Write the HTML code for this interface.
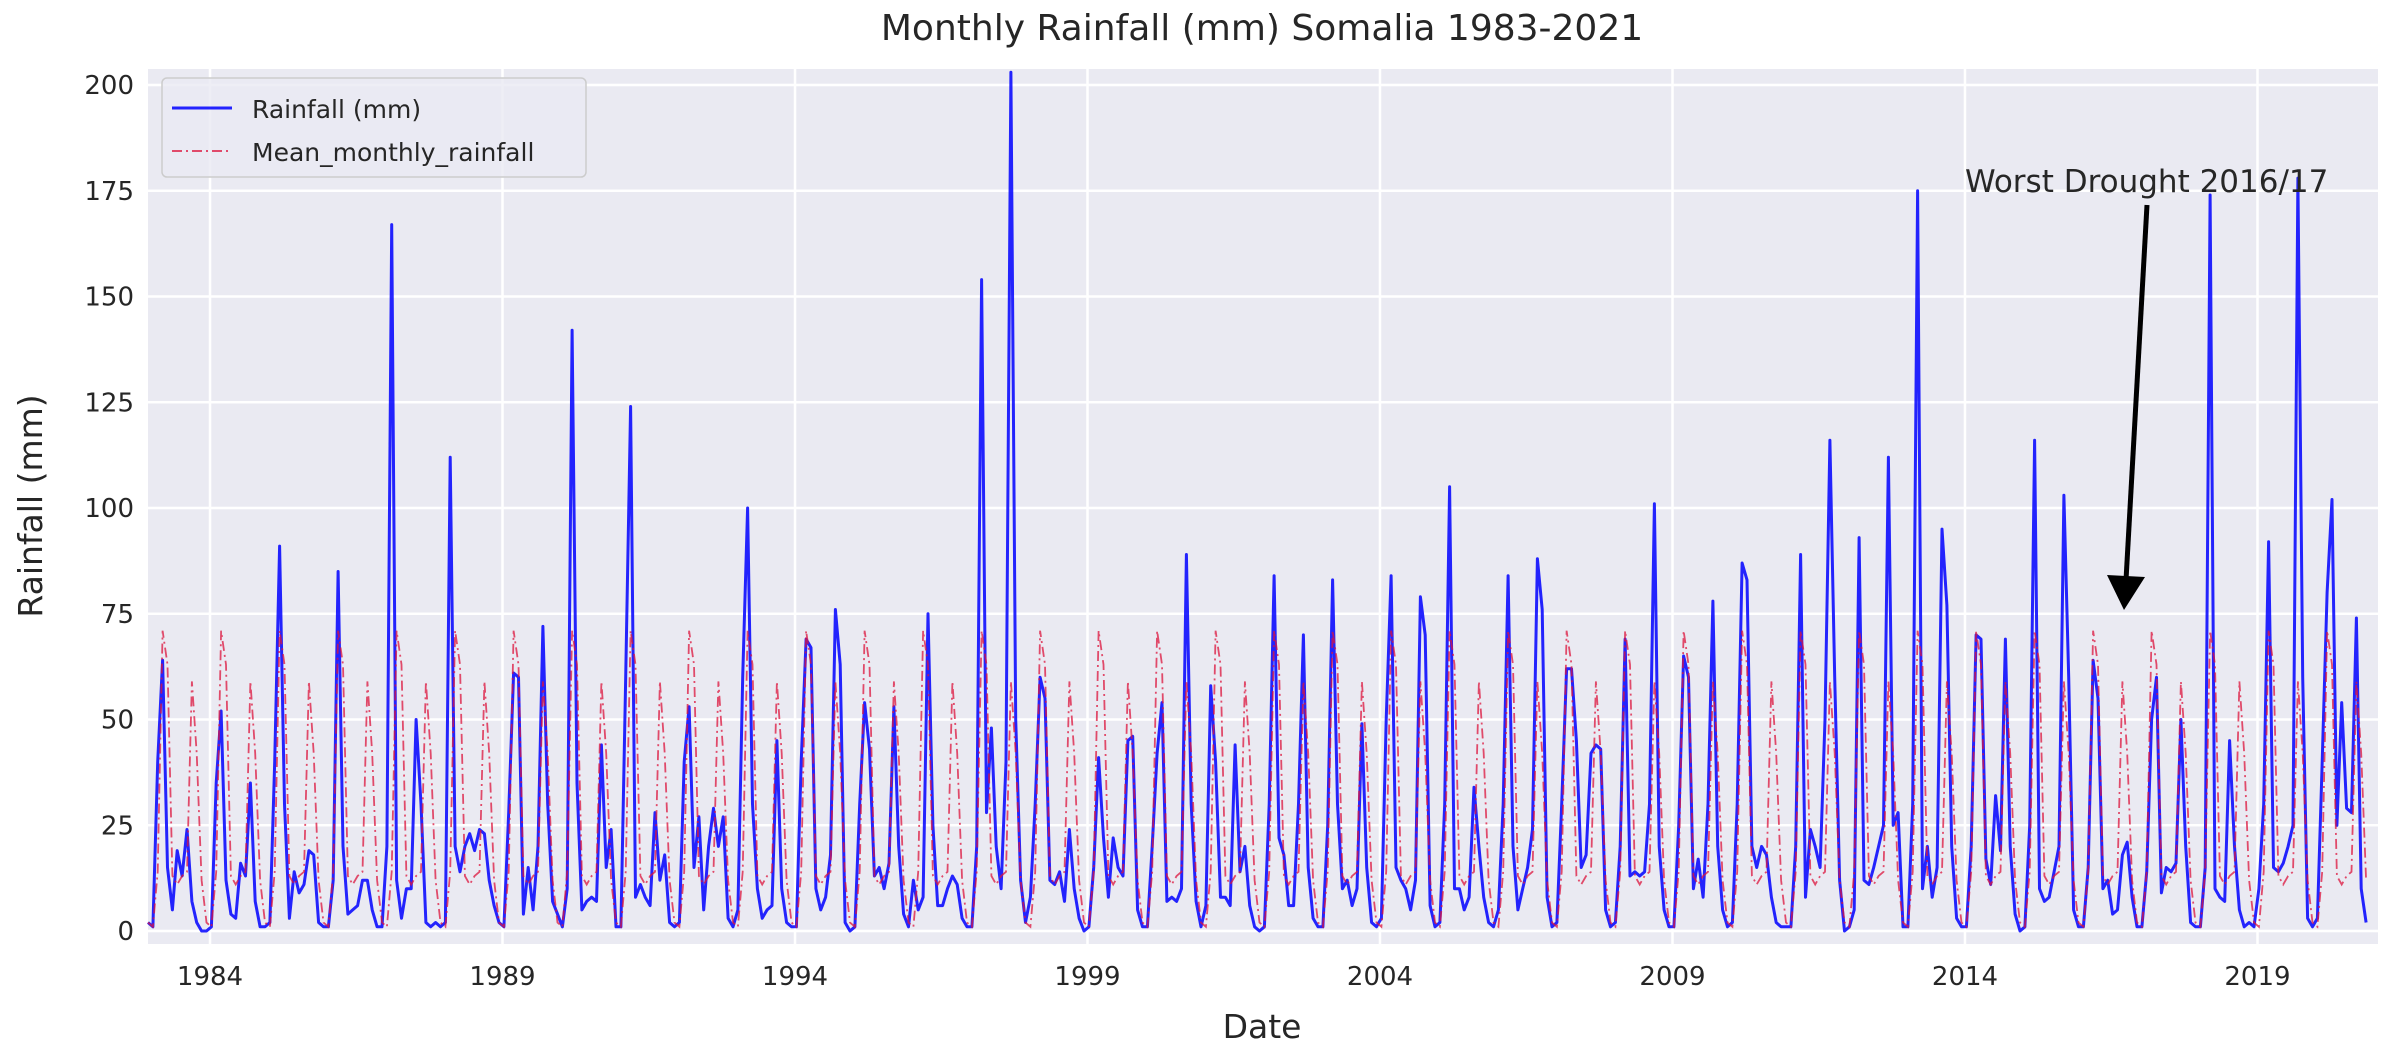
<!DOCTYPE html>
<html><head><meta charset="utf-8">
<style>
body{margin:0;background:#fff;}
svg{display:block;font-family:"DejaVu Sans","Liberation Sans",sans-serif;}
</style></head>
<body>
<svg id="chart" width="2404" height="1046" viewBox="0 0 2404 1046" xmlns="http://www.w3.org/2000/svg">
<rect x="0" y="0" width="2404" height="1046" fill="#fff"/>
<text x="1262" y="40" text-anchor="middle" font-size="36" fill="#262626">Monthly Rainfall (mm) Somalia 1983-2021</text>
<rect x="148" y="69" width="2230" height="875" fill="#eaeaf2"/>
<g id="grid"></g>
<g id="ticks"></g>
<g id="series"></g>
<text x="1262" y="1038" text-anchor="middle" font-size="33" fill="#262626">Date</text>
<text transform="translate(42,506) rotate(-90)" text-anchor="middle" font-size="33" fill="#262626">Rainfall (mm)</text>
<g>
<rect x="162" y="78" width="424" height="99" rx="5" fill="#eaeaf2" fill-opacity="0.8" stroke="#cccccc" stroke-width="1.5"/>
<line x1="172" y1="108" x2="232" y2="108" stroke="#0000ff" stroke-opacity="0.85" stroke-width="3"/>
<text x="252" y="118" font-size="25" fill="#262626">Rainfall (mm)</text>
<line x1="172" y1="151" x2="232" y2="151" stroke="#dc143c" stroke-opacity="0.75" stroke-width="2" stroke-dasharray="10,4,2,4"/>
<text x="252" y="161" font-size="25" fill="#262626">Mean_monthly_rainfall</text>
</g>
<g>
<line x1="2147" y1="205" x2="2126" y2="580" stroke="#000" stroke-width="5"/>
<polygon points="2107,575 2145,577 2124,610" fill="#000"/>
<text x="1965" y="192" font-size="31" fill="#262626">Worst Drought 2016/17</text>
</g>
</svg>
<script>
const yTicks = [0,25,50,75,100,125,150,175,200];
const xTicks = [1984,1989,1994,1999,2004,2009,2014,2019];
const monthlyMean = [2,1,14,71,63,13,11,13,14,59,42,12];
const r1983=[2,1,40,64,15,5,19,13,24,7,2,0];
const r1984=[0,1,35,52,12,4,3,16,13,35,7,1];
const r1985=[1,2,40,91,30,3,14,9,11,19,18,2];
const r1986=[1,1,12,85,20,4,5,6,12,12,5,1];
const r1987=[1,20,167,12,3,10,10,50,30,2,1,2];
const r1988=[1,2,112,20,14,20,23,19,24,23,12,6];
const r1989=[2,1,28,61,60,4,15,5,20,72,30,7];
const r1990=[4,1,10,142,35,5,7,8,7,44,15,24];
const r1991=[1,1,60,124,8,11,8,6,28,12,18,2];
const r1992=[1,2,40,53,15,27,5,20,29,20,27,3];
const r1993=[1,5,60,100,30,10,3,5,6,45,10,2];
const r1994=[1,1,40,69,67,10,5,8,18,76,63,2];
const r1995=[0,1,30,54,43,13,15,10,16,53,20,4];
const r1996=[1,12,5,8,75,25,6,6,10,13,11,3];
const r1997=[1,1,20,154,28,48,20,10,40,203,50,12];
const r1998=[2,8,30,60,55,12,11,14,7,24,10,3];
const r1999=[0,1,15,41,22,8,22,15,13,45,46,5];
const r2000=[1,1,20,42,54,7,8,7,10,89,30,7];
const r2001=[1,6,58,40,8,8,6,44,14,20,6,1];
const r2002=[0,1,30,84,22,18,6,6,30,70,15,3];
const r2003=[1,1,25,83,30,10,12,6,10,49,15,2];
const r2004=[1,3,50,84,15,12,10,5,12,79,70,6];
const r2005=[1,2,30,105,10,10,5,8,34,20,8,2];
const r2006=[1,5,30,84,20,5,10,15,24,88,76,8];
const r2007=[1,2,30,62,62,45,15,18,42,44,43,5];
const r2008=[1,2,20,69,13,14,13,14,30,101,20,5];
const r2009=[1,1,25,65,60,10,17,8,30,78,20,5];
const r2010=[1,2,30,87,83,20,15,20,18,8,2,1];
const r2011=[1,1,20,89,8,24,20,15,50,116,60,12];
const r2012=[0,1,5,93,12,11,15,20,25,112,25,28];
const r2013=[1,1,30,175,10,20,8,15,95,77,20,3];
const r2014=[1,1,20,70,69,17,11,32,19,69,20,4];
const r2015=[0,1,25,116,10,7,8,14,20,103,60,5];
const r2016=[1,1,15,64,55,10,12,4,5,18,21,8];
const r2017=[1,1,14,50,60,9,15,14,16,50,20,2];
const r2018=[1,1,15,174,10,8,7,45,20,5,1,2];
const r2019=[1,10,30,92,15,14,16,20,25,178,60,3];
const r2020=[1,3,40,80,102,25,54,29,28,74,10,2];
const rainfall=[].concat(r1983,r1984,r1985,r1986,r1987,r1988,r1989,r1990,r1991,r1992,r1993,r1994,r1995,r1996,r1997,r1998,r1999,r2000,r2001,r2002,r2003,r2004,r2005,r2006,r2007,r2008,r2009,r2010,r2011,r2012,r2013,r2014,r2015,r2016,r2017,r2018,r2019,r2020);
const startYear = 1982.94;

const NS='http://www.w3.org/2000/svg';
const L=148,R=2378,T=69,B=944;
const X0=1982.94,X1=2021.06,Y0=-3,Y1=203.8;
function xs(v){return L+(v-X0)/(X1-X0)*(R-L);}
function ys(v){return 931-(v-0)*4.23;}
function mk(tag,attrs,parent){const e=document.createElementNS(NS,tag);for(const k in attrs)e.setAttribute(k,attrs[k]);parent.appendChild(e);return e;}
const grid=document.getElementById('grid'),ticks=document.getElementById('ticks'),series=document.getElementById('series');
yTicks.forEach(t=>{
  const l=mk('line',{x1:L,x2:R,y1:ys(t),y2:ys(t),stroke:'#fff','stroke-width':2.5},grid);
  
  
  const tx=mk('text',{x:L-14,y:ys(t)+9,'text-anchor':'end','font-size':26,fill:'#262626'},ticks);
  tx.textContent=t;
  
  
});
xTicks.forEach(t=>{
  const l=mk('line',{x1:xs(t),x2:xs(t),y1:T,y2:B,stroke:'#fff','stroke-width':2.5},grid);
  
  
  const tx=mk('text',{x:xs(t),y:B+41,'text-anchor':'middle','font-size':26,fill:'#262626'},ticks);
  tx.textContent=t;
  
  
});
function pts(arr){return arr.map((v,i)=>xs(startYear+i/12).toFixed(1)+','+ys(v).toFixed(1)).join(' ');}
const meanSeries=rainfall.map((v,i)=>monthlyMean[i%12]);
const rl=mk('polyline',{points:pts(rainfall),fill:'none',stroke:'#0000ff','stroke-opacity':0.85,'stroke-width':3,'stroke-linejoin':'round'},series);


const ml=mk('polyline',{points:pts(meanSeries),fill:'none',stroke:'#dc143c','stroke-opacity':0.75,'stroke-width':1.8,'stroke-dasharray':'10,4,2,4'},series);


</script>
</body></html>
